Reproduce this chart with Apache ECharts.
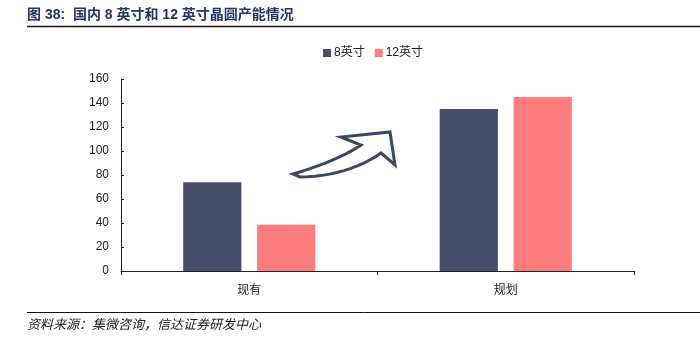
<!DOCTYPE html>
<html><head><meta charset="utf-8">
<script src="https://cdn.jsdelivr.net/npm/echarts@6/dist/echarts.min.js"></script>
<style>html,body{margin:0;padding:0;background:#fff}#c{width:700px;height:354px}</style>
</head><body><div id="c"></div>
<script>
var categories = ['现有', '规划'];
var seriesNames = ['8英寸', '12英寸'];
var values8 = [74, 135];
var values12 = [38.5, 145];
var yTicks = [0, 20, 40, 60, 80, 100, 120, 140, 160];

function cubic(p0, p1, p2, p3, n) {
  var pts = [];
  for (var i = 0; i <= n; i++) {
    var t = i / n, u = 1 - t;
    pts.push([
      u*u*u*p0[0] + 3*u*u*t*p1[0] + 3*u*t*t*p2[0] + t*t*t*p3[0],
      u*u*u*p0[1] + 3*u*u*t*p1[1] + 3*u*t*t*p2[1] + t*t*t*p3[1]
    ]);
  }
  return pts;
}
var arrowPts = cubic([293,174],[320,166],[345,156],[361,145],12)
  .concat([[341,137],[390,132],[395,165]])
  .concat(cubic([381,153],[360,168],[330,177],[300,177],12));

var chart = echarts.init(document.getElementById('c'));
var font = '"Liberation Sans", Arial, "Noto Sans CJK SC", sans-serif';
chart.setOption({
  animation: false,
  textStyle: {fontFamily: font},
  grid: {left: 121, right: 66, top: 79, bottom: 83, containLabel: false},
  legend: {
    data: seriesNames, left: 318, top: 42, icon: 'rect', itemWidth: 8, itemHeight: 8, itemGap: 10,
    textStyle: {fontSize: 12, color: '#222', fontFamily: font, padding: [0, 0, 0, -2]}
  },
  xAxis: {
    type: 'category', data: categories,
    axisLine: {lineStyle: {color: '#222', width: 1}},
    axisTick: {show: true, length: 4, lineStyle: {color: '#222'}},
    axisLabel: {fontSize: 12, color: '#222', margin: 14}
  },
  yAxis: {
    type: 'value', min: yTicks[0], max: yTicks[yTicks.length - 1], interval: 20,
    axisLine: {show: true, lineStyle: {color: '#222', width: 1}},
    axisTick: {show: true, inside: true, length: 3, lineStyle: {color: '#222'}},
    splitLine: {show: false},
    axisLabel: {fontSize: 12, color: '#222', margin: 12}
  },
  series: [
    {name: seriesNames[0], type: 'bar', data: values8, barGap: '27%', barCategoryGap: '48.5%',
     itemStyle: {color: '#454f6c'}},
    {name: seriesNames[1], type: 'bar', data: values12, barGap: '27%', barCategoryGap: '48.5%',
     itemStyle: {color: '#ff7c7c'}}
  ],
  graphic: {elements: [
    {type: 'text', x: 27, y: 8, style: {text: '图 38:  国内 8 英寸和 12 英寸晶圆产能情况', fill: '#1f3864',
      fontSize: 14, fontWeight: 'bold', fontFamily: '"Liberation Sans", "Noto Sans CJK SC", sans-serif'}},
    {type: 'line', shape: {x1: 27, y1: 26.5, x2: 700, y2: 26.5}, style: {stroke: '#111', lineWidth: 1.5}},
    {type: 'line', shape: {x1: 27, y1: 312.5, x2: 700, y2: 312.5}, style: {stroke: '#111', lineWidth: 1}},
    {type: 'text', x: 27, y: 318, style: {text: '资料来源：集微咨询，信达证券研发中心', fill: '#222',
      fontSize: 13, fontStyle: 'italic', fontFamily: '"Noto Sans CJK SC", sans-serif'}},
    {type: 'polygon', shape: {points: arrowPts},
      style: {fill: '#fff', stroke: '#3a4862', lineWidth: 3, lineJoin: 'miter'}}
  ]}
});
</script></body></html>
